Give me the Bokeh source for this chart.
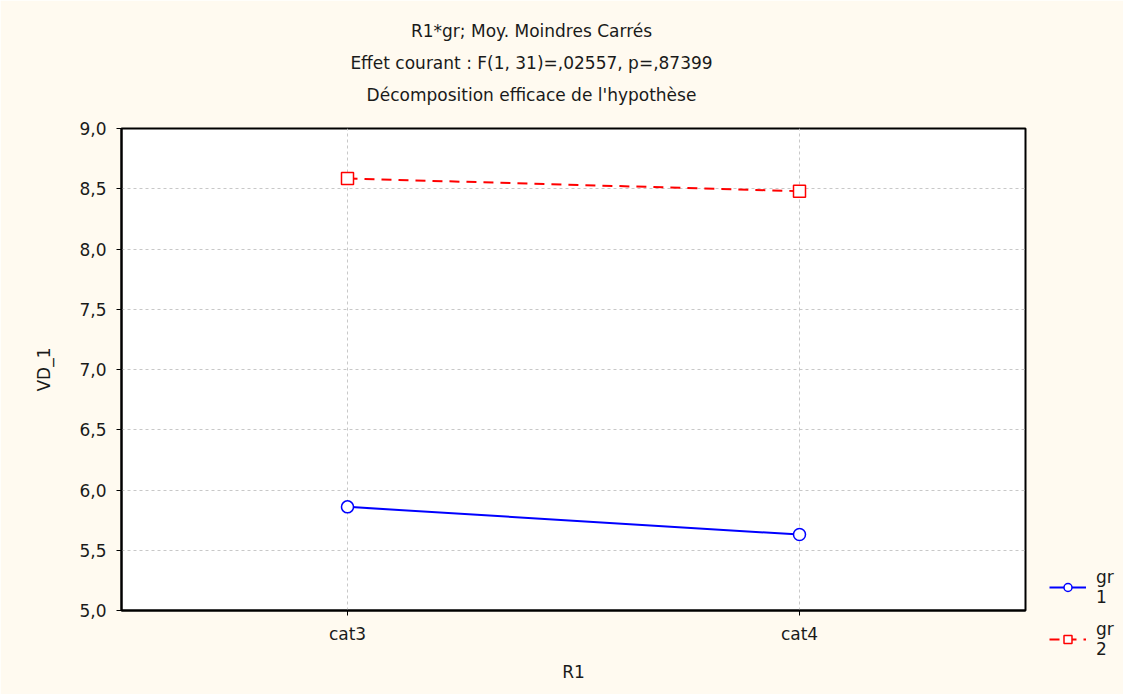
from bokeh.plotting import figure
from bokeh.models import (FactorRange, Range1d, FixedTicker, CustomJSTickFormatter,
                          Title, Legend, LegendItem, ColumnDataSource)
from bokeh.embed import file_html
from bokeh.resources import INLINE

# ---- data ----
categories = ["cat3", "cat4"]
gr1_values = [5.86, 5.63]
gr2_values = [8.585, 8.48]
y_ticks = [5.0, 5.5, 6.0, 6.5, 7.0, 7.5, 8.0, 8.5, 9.0]
title_lines = ["R1*gr; Moy. Moindres Carrés",
               "Effet courant : F(1, 31)=,02557, p=,87399",
               "Décomposition efficace de l'hypothèse"]
series_labels = ["gr\n1", "gr\n2"]
x_label = "R1"
y_label = "VD_1"

FONT = "DejaVu Sans"
FS = "17px"
BG = "#FFFAF0"
TXT = "#1a1a1a"

p = figure(frame_width=904, frame_height=482, output_backend="svg",
           toolbar_location=None, title=None,
           x_range=FactorRange(factors=categories), y_range=Range1d(5, 9),
           min_border_left=121, min_border_right=98, min_border_top=0,
           min_border_bottom=84)
p.background_fill_color = "white"
p.border_fill_color = BG
p.outline_line_color = "black"
p.outline_line_width = 2

# axes
p.yaxis.ticker = FixedTicker(ticks=y_ticks)
p.yaxis.formatter = CustomJSTickFormatter(code="return tick.toFixed(1).replace('.', ',');")
for ax in (p.xaxis[0], p.yaxis[0]):
    ax.axis_line_color = "black"
    ax.axis_line_width = 2
    ax.major_tick_line_color = "black"
    ax.major_tick_out = 5
    ax.major_tick_in = 0
    ax.minor_tick_line_color = None
    ax.major_label_text_font = FONT
    ax.major_label_text_font_size = FS
    ax.major_label_text_color = TXT
    ax.axis_label_text_font = FONT
    ax.axis_label_text_font_size = FS
    ax.axis_label_text_font_style = "normal"
    ax.axis_label_text_color = TXT
p.xaxis.axis_label = x_label
p.yaxis.axis_label = y_label
p.xaxis.major_label_standoff = 8
p.xaxis.axis_label_standoff = 15
p.yaxis.major_label_standoff = 10
p.yaxis.axis_label_standoff = 22

# grid
for g in (p.xgrid[0], p.ygrid[0]):
    g.grid_line_color = "#c8c8c8"
    g.grid_line_dash = "3 3"
    g.grid_line_width = 1

src1 = ColumnDataSource(dict(x=categories, y=gr1_values))
src2 = ColumnDataSource(dict(x=categories, y=gr2_values))

l1 = p.line("x", "y", source=src1, line_color="#0000ff", line_width=2)
m1 = p.scatter("x", "y", source=src1, marker="circle", size=12,
               line_color="#0000ff", line_width=1.5, fill_color="white")
l2 = p.line("x", "y", source=src2, line_color="#ff0000", line_width=2,
            line_dash="10 7")
m2 = p.scatter("x", "y", source=src2, marker="square", size=12,
               line_color="#ff0000", line_width=1.5, fill_color="white")

# legend (right side panel)
legend = Legend(items=[LegendItem(label=series_labels[0], renderers=[l1, m1]),
                       LegendItem(label=series_labels[1], renderers=[l2, m2])],
                location=(24, -49))
legend.padding = 0
legend.margin = 0
legend.glyph_width = 37
legend.glyph_height = 20
legend.spacing = 12
legend.label_standoff = 10
legend.label_text_font = FONT
legend.label_text_font_size = FS
legend.label_text_color = TXT
legend.border_line_alpha = 0
legend.background_fill_alpha = 0
p.add_layout(legend, "right")

# titles: first added sits nearest the frame; right padding shifts centre left
pads = [(5, 24), (5, 5), (18, 5)]  # (top, bottom) for line 3, 2, 1
for t, (pt, pb) in zip(reversed(title_lines), pads):
    p.add_layout(Title(text=t, align="center", text_font=FONT, text_font_size=FS,
                       text_font_style="normal", text_color=TXT, standoff=0,
                       padding=dict(left=0, right=84, top=pt, bottom=pb)), "above")

open("out.html", "w").write(file_html(p, INLINE))
